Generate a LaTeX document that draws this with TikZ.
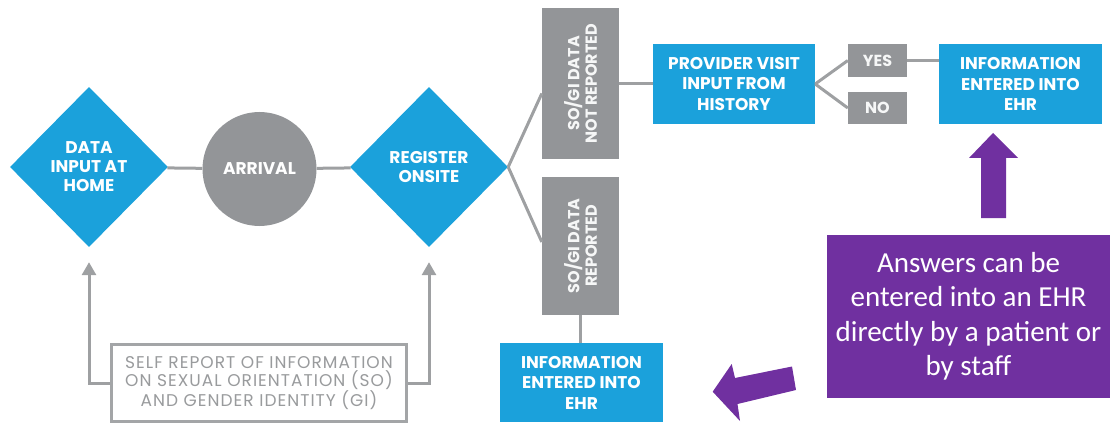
\documentclass[tikz,border=0pt]{standalone}
\usepackage{fontspec}
\setmainfont{Poppins}
\newfontfamily\notefont{Carlito}
\usetikzlibrary{shapes.geometric,arrows.meta,positioning}
\definecolor{flowblue}{HTML}{1BA1DB}
\definecolor{flowgray}{HTML}{939598}
\definecolor{linegray}{HTML}{9EA0A2}
\definecolor{selfgray}{HTML}{A3A5A7}
\definecolor{selftext}{HTML}{999B9D}
\definecolor{notepurple}{HTML}{7030A0}

\begin{document}
\begin{tikzpicture}[x=1pt,y=-1pt]
\tikzstyle{every node}+=[inner sep=0pt,align=center]
\tikzstyle{boxfont}=[font=\fontsize{17}{20.5}\selectfont\bfseries]
\tikzstyle{bluebox}=[rectangle,fill=flowblue,text=white,boxfont]
\tikzstyle{bluediamond}=[diamond,fill=flowblue,text=white,minimum width=158pt,minimum height=160pt,font=\fontsize{17}{19}\selectfont\bfseries]
\tikzstyle{graybox}=[rectangle,fill=flowgray,text=white!92!flowgray,font=\fontsize{16}{17.5}\selectfont\bfseries]
\tikzstyle{flowline}=[draw=linegray,line width=3pt]
\tikzstyle{feedarrow}=[flowline,-{Triangle[width=14pt,length=13pt]},shorten >=15pt]
\useasboundingbox (0,0) rectangle (1114,425);
\node[bluediamond] (home) at (89,167) {DATA\\INPUT AT\\HOME};
\node[circle,fill=flowgray,text=white,minimum size=114pt,boxfont] (arrival) at (259.5,169) {ARRIVAL};
\node[bluediamond] (register) at (429,167) {REGISTER\\ONSITE};
\node[graybox,minimum width=77pt,minimum height=151pt] (notrep) at (580.5,83.5)
  {\rotatebox{90}{\parbox{140pt}{\centering SO/GI DATA\\NOT REPORTED}}};
\node[graybox,minimum width=77pt,minimum height=138pt] (rep) at (580.5,246)
  {\rotatebox{90}{\parbox{130pt}{\centering SO/GI DATA\\REPORTED}}};
\node[bluebox,minimum width=162pt,minimum height=80pt] (provider) at (734,84) {PROVIDER VISIT\\INPUT FROM\\HISTORY};
\node[graybox,minimum width=59pt,minimum height=33pt] (yes) at (877.5,60.5) {YES};
\node[graybox,minimum width=59pt,minimum height=32pt] (no) at (877.5,108) {NO};
\node[bluebox,minimum width=163pt,minimum height=80pt] (ehrtop) at (1020.5,84) {INFORMATION\\ENTERED INTO\\EHR};
\node[bluebox,minimum width=163pt,minimum height=79pt] (ehrbottom) at (581.5,382.5) {INFORMATION\\ENTERED INTO\\EHR};
\node[rectangle,draw=selfgray,line width=3pt,fill=white,text=selftext,minimum width=295pt,minimum height=77pt,
  font=\fontsize{17}{18.5}\selectfont\addfontfeatures{LetterSpace=6}] (selfreport) at (259,383)
  {SELF REPORT OF INFORMATION\\ON SEXUAL ORIENTATION (SO)\\AND GENDER IDENTITY (GI)};
\node[rectangle,fill=notepurple,text=white,minimum width=283pt,minimum height=163pt,
  font=\notefont\fontsize{29}{34.5}\selectfont] (note) at (968.5,316.5)
  {Answers can be\\entered into an EHR\\directly by a patient or\\by staff};
\draw[flowline] (home) -- (arrival);
\draw[flowline] (arrival) -- (register);
\draw[flowline] (register.east) -- ([yshift=-10pt]notrep.west);
\draw[flowline] (register.east) -- ([yshift=4pt]rep.west);
\draw[flowline] (notrep.east) -- (notrep.east -| provider.west);
\draw[flowline] (provider.east) -- (yes.west);
\draw[flowline] (provider.east) -- (no.west);
\draw[flowline] (yes.east) -- (yes.east -| ehrtop.west);
\draw[flowline] (rep.south) -- (rep.south |- ehrbottom.north);
\draw[feedarrow] (selfreport.west) -| (home.south);
\draw[feedarrow] (selfreport.east) -| (register.south);
% purple pointers
\fill[notepurple] (981,218) -- (981,158) -- (969,158) -- (993,133) -- (1018,158) -- (1006,158) -- (1006,218) -- cycle;
\fill[notepurple] (792,366.5) -- (735,378) -- (731.7,364) -- (712.7,391.7) -- (740,421) -- (737.5,404) -- (796,390) -- cycle;
\end{tikzpicture}
\end{document}
